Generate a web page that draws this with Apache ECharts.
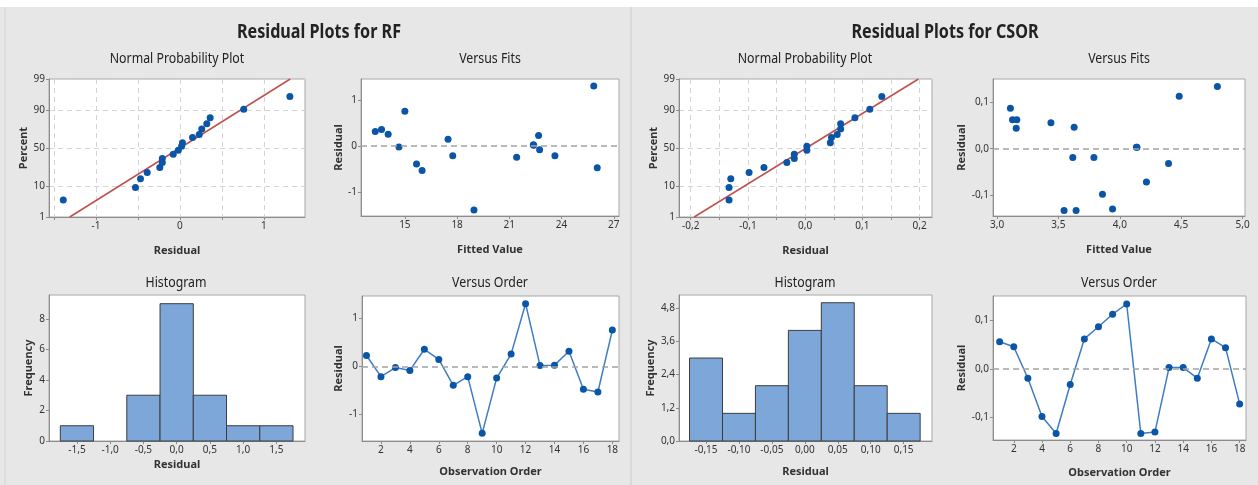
<!DOCTYPE html>
<html>
<head>
  <meta charset="utf-8">
</head>
<body style="margin: 0; background: #e7e7e7">
  <div id="container" style="width: 1258px; height: 485px"></div>
  <script type="text/javascript" src="https://cdn.jsdelivr.net/npm/echarts@6/dist/echarts.min.js"></script>
  <script type="text/javascript">
    // observation order
    const obsOrder = [1, 2, 3, 4, 5, 6, 7, 8, 9, 10, 11, 12, 13, 14, 15, 16, 17, 18];
    // RF model
    const residRF = [0.23, -0.21, -0.02, -0.08, 0.36, 0.15, -0.39, -0.21, -1.39, -0.24, 0.26, 1.31, 0.02, 0.03, 0.32, -0.47, -0.53, 0.76];
    const fitsRF = [22.68, 17.75, 14.66, 22.74, 13.66, 17.48, 15.67, 23.62, 18.97, 21.42, 14.04, 25.85, 22.40, 22.38, 13.30, 26.05, 15.99, 15.00];
    const histRFCenters = [-1.5, -1.0, -0.5, 0.0, 0.5, 1.0, 1.5];
    const histRFCounts = [1, 0, 3, 9, 3, 1, 1];
    const histRFWidth = 0.5;
    const fitLineRF = [[-1.313, 1], [1.314, 99]];
    // CSOR model
    const residCSOR = [0.056, 0.046, -0.019, -0.098, -0.133, -0.032, 0.062, 0.087, 0.113, 0.134, -0.133, -0.130, 0.003, 0.003, -0.019, 0.062, 0.044, -0.072];
    const fitsCSOR = [3.439, 3.628, 3.617, 3.859, 3.546, 4.397, 3.126, 3.109, 4.484, 4.795, 3.644, 3.941, 4.135, 4.140, 3.789, 3.161, 3.156, 4.217];
    const histCSORCenters = [-0.15, -0.10, -0.05, 0.00, 0.05, 0.10, 0.15];
    const histCSORCounts = [3, 1, 2, 4, 5, 2, 1];
    const histCSORWidth = 0.05;
    const fitLineCSOR = [[-0.194, 1], [0.198, 99]];
    // normal plot percents (same n for both)
    const probPercent = [4.0, 9.2, 14.9, 20.4, 25.5, 31.2, 36.3, 41.7, 46.9, 52.3, 57.1, 63.7, 67.7, 73.9, 79.4, 84.6, 90.5, 95.9];

    // tick labels
    const pctTicks = [1, 10, 50, 90, 99];
    const nppRFLabels = [-1, 0, 1];
    const nppRFGrid = [-1.5, -1, -0.5, 0, 0.5, 1];
    const nppCSORLabels = [-0.2, -0.1, 0, 0.1, 0.2];
    const nppCSORGrid = [-0.2, -0.15, -0.1, -0.05, 0, 0.05, 0.1, 0.15, 0.2];
    const fitsRFTicks = [15, 18, 21, 24, 27];
    const residRFTicks = [-1, 0, 1];
    const fitsCSORTicks = [3.0, 3.5, 4.0, 4.5, 5.0];
    const residCSORTicks = [-0.1, 0, 0.1];
    const histRFYTicks = [0, 2, 4, 6, 8];
    const histCSORYTicks = [0, 1.2, 2.4, 3.6, 4.8];
    const orderTicks = [2, 4, 6, 8, 10, 12, 14, 16, 18];

    const FONT = 'Noto Sans';

    // inverse normal cdf (Acklam) for the probability scale
    function probit(p) {
      var a = [-3.969683028665376e+01, 2.209460984245205e+02, -2.759285104469687e+02, 1.383577518672690e+02, -3.066479806614716e+01, 2.506628277459239e+00];
      var b = [-5.447609879822406e+01, 1.615858368580409e+02, -1.556989798598866e+02, 6.680131188771972e+01, -1.328068155288572e+01];
      var c = [-7.784894002430293e-03, -3.223964580411365e-01, -2.400758277161838e+00, -2.549732539343734e+00, 4.374664141464968e+00, 2.938163982698783e+00];
      var d = [7.784695709041462e-03, 3.224671290700398e-01, 2.445134137142996e+00, 3.754408661907416e+00];
      var pl = 0.02425, q, r;
      if (p < pl) {
        q = Math.sqrt(-2 * Math.log(p));
        return (((((c[0] * q + c[1]) * q + c[2]) * q + c[3]) * q + c[4]) * q + c[5]) / ((((d[0] * q + d[1]) * q + d[2]) * q + d[3]) * q + 1);
      }
      if (p > 1 - pl) {
        q = Math.sqrt(-2 * Math.log(1 - p));
        return -(((((c[0] * q + c[1]) * q + c[2]) * q + c[3]) * q + c[4]) * q + c[5]) / ((((d[0] * q + d[1]) * q + d[2]) * q + d[3]) * q + 1);
      }
      q = p - 0.5; r = q * q;
      return (((((a[0] * r + a[1]) * r + a[2]) * r + a[3]) * r + a[4]) * r + a[5]) * q / (((((b[0] * r + b[1]) * r + b[2]) * r + b[3]) * r + b[4]) * r + 1);
    }
    const zTicks = pctTicks.map(p => probit(p / 100));

    function fmt(dec) {
      return v => (Math.abs(v) < 1e-9 ? 0 : v).toFixed(dec).replace('.', ',');
    }
    function pctFmt(v) {
      for (var i = 0; i < zTicks.length; i++) {
        if (Math.abs(zTicks[i] - v) < 1e-6) return String(pctTicks[i]);
      }
      return '';
    }

    function axis(gi, o) {
      return {
        type: 'value', gridIndex: gi, min: o.min, max: o.max, scale: true,
        name: o.name, nameLocation: 'middle', nameGap: o.gap,
        nameTextStyle: { fontFamily: FONT, fontSize: 11, fontWeight: 'bold', color: '#333' },
        axisLine: { show: true, onZero: false, lineStyle: { color: '#8c8c8c', width: 1 } },
        axisTick: { show: true, length: 3, customValues: o.ticks || o.labels, lineStyle: { color: '#8c8c8c' } },
        axisLabel: { customValues: o.labels, formatter: o.fmt, fontFamily: FONT, fontSize: 10, color: '#333', margin: 4 },
        splitLine: { show: !!o.grid, lineStyle: { type: [5, 4], color: '#d4d4d4', width: 1 } }
      };
    }

    function histItem(width) {
      return function (params, api) {
        var c = api.value(0), n = api.value(1);
        if (!n) return null;
        var p0 = api.coord([c - width / 2, n]);
        var p1 = api.coord([c + width / 2, 0]);
        return {
          type: 'rect',
          shape: { x: p0[0], y: p0[1], width: p1[0] - p0[0], height: p1[1] - p0[1] },
          style: { fill: '#7da6d9', stroke: '#3d3d3d', lineWidth: 1 }
        };
      };
    }

    const zeroLine = {
      silent: true, symbol: 'none', label: { show: false },
      lineStyle: { type: [6, 4], color: '#a3a3a3', width: 1.5 },
      data: [{ yAxis: 0 }]
    };
    const DOT = '#0a55a6';

    const sortedRF = residRF.slice().sort((a, b) => a - b);
    const sortedCSOR = residCSOR.slice().sort((a, b) => a - b);

    const gridBox = { show: true, backgroundColor: '#fff', borderColor: '#a8a8a8', borderWidth: 1 };
    const grids = [
      { left: 49, top: 79, width: 256, height: 138 },
      { left: 361, top: 79, width: 258, height: 137 },
      { left: 49, top: 295, width: 256, height: 146 },
      { left: 362, top: 296, width: 257, height: 145 },
      { left: 679, top: 79, width: 253, height: 138 },
      { left: 993, top: 79, width: 252, height: 137 },
      { left: 679, top: 295, width: 253, height: 146 },
      { left: 993, top: 296, width: 253, height: 144 }
    ].map(g => Object.assign({}, gridBox, g));

    const zMin = probit(0.01) - 1e-4, zMax = probit(0.99) + 1e-4;

    const xAxes = [
      axis(0, { min: -1.56, max: 1.49, labels: nppRFLabels, ticks: nppRFGrid, grid: true, fmt: fmt(0), name: 'Residual', gap: 28 }),
      axis(1, { min: 12.48, max: 27.3, labels: fitsRFTicks, fmt: fmt(0), name: 'Fitted Value', gap: 28 }),
      axis(2, { min: -1.92, max: 1.93, labels: histRFCenters, fmt: fmt(1), name: 'Residual', gap: 18 }),
      axis(3, { min: 0.69, max: 18.46, labels: orderTicks, fmt: fmt(0), name: 'Observation Order', gap: 25 }),
      axis(4, { min: -0.2205, max: 0.2217, labels: nppCSORLabels, ticks: nppCSORGrid, grid: true, fmt: fmt(1), name: 'Residual', gap: 28 }),
      axis(5, { min: 2.967, max: 5.02, labels: fitsCSORTicks, fmt: fmt(1), name: 'Fitted Value', gap: 28 }),
      axis(6, { min: -0.191, max: 0.193, labels: histCSORCenters, fmt: fmt(2), name: 'Residual', gap: 25 }),
      axis(7, { min: 0.53, max: 18.45, labels: orderTicks, fmt: fmt(0), name: 'Observation Order', gap: 27 })
    ];
    const yAxes = [
      axis(0, { min: zMin, max: zMax, labels: zTicks, grid: true, fmt: pctFmt, name: 'Percent', gap: 20 }),
      axis(1, { min: -1.52, max: 1.46, labels: residRFTicks, fmt: fmt(0), name: 'Residual', gap: 17 }),
      axis(2, { min: 0, max: 9.57, labels: histRFYTicks, fmt: fmt(0), name: 'Frequency', gap: 15 }),
      axis(3, { min: -1.55, max: 1.47, labels: residRFTicks, fmt: fmt(0), name: 'Residual', gap: 18 }),
      axis(4, { min: zMin, max: zMax, labels: zTicks, grid: true, fmt: pctFmt, name: 'Percent', gap: 20 }),
      axis(5, { min: -0.145, max: 0.150, labels: residCSORTicks, fmt: fmt(1), name: 'Residual', gap: 24 }),
      axis(6, { min: 0, max: 5.28, labels: histCSORYTicks, fmt: fmt(1), name: 'Frequency', gap: 23 }),
      axis(7, { min: -0.1464, max: 0.1505, labels: residCSORTicks, fmt: fmt(1), name: 'Residual', gap: 22 })
    ];

    function modelSeries(k, sorted, fitLine, resid, fits, centers, counts, width) {
      var g = k * 4;
      return [
        {
          type: 'line', xAxisIndex: g, yAxisIndex: g, symbol: 'none', z: 2,
          lineStyle: { color: '#c0504d', width: 1.5 },
          data: fitLine.map(d => [d[0], probit(d[1] / 100)])
        },
        {
          type: 'scatter', xAxisIndex: g, yAxisIndex: g, symbolSize: 7, z: 3,
          itemStyle: { color: DOT, opacity: 1 },
          data: sorted.map((r, i) => [r, probit(probPercent[i] / 100)])
        },
        {
          type: 'scatter', xAxisIndex: g + 1, yAxisIndex: g + 1, symbolSize: 7,
          itemStyle: { color: DOT, opacity: 1 },
          markLine: zeroLine,
          data: fits.map((f, i) => [f, resid[i]])
        },
        {
          type: 'custom', xAxisIndex: g + 2, yAxisIndex: g + 2,
          renderItem: histItem(width), encode: { x: 0, y: 1 },
          data: centers.map((c, i) => [c, counts[i]])
        },
        {
          type: 'line', xAxisIndex: g + 3, yAxisIndex: g + 3, symbol: 'circle', symbolSize: 7,
          lineStyle: { color: '#3d7cc6', width: 1.5 },
          itemStyle: { color: DOT },
          markLine: zeroLine,
          data: obsOrder.map((o, i) => [o, resid[i]])
        }
      ];
    }

    function label(text, x, y, size, weight, sx) {
      return {
        type: 'text', x: x, y: y, scaleX: sx,
        style: { text: text, fontFamily: FONT, fontSize: size, fontWeight: weight, fill: '#222', textAlign: 'center', textVerticalAlign: 'middle' }
      };
    }

    var dom = document.getElementById('container');
    var myChart = echarts.init(dom, null, { renderer: 'canvas' });

    var option = {
      backgroundColor: '#e7e7e7',
      animation: false,
      grid: grids,
      xAxis: xAxes,
      yAxis: yAxes,
      series: [].concat(
        modelSeries(0, sortedRF, fitLineRF, residRF, fitsRF, histRFCenters, histRFCounts, histRFWidth),
        modelSeries(1, sortedCSOR, fitLineCSOR, residCSOR, fitsCSOR, histCSORCenters, histCSORCounts, histCSORWidth)
      ),
      graphic: [
        { type: 'rect', shape: { x: 0, y: 0, width: 1258, height: 7 }, style: { fill: '#fff' } },
        { type: 'line', shape: { x1: 631, y1: 7, x2: 631, y2: 485 }, style: { stroke: '#cdcdcd', lineWidth: 1 } },
        { type: 'line', shape: { x1: 5, y1: 7, x2: 5, y2: 485 }, style: { stroke: '#d6d6d6', lineWidth: 1 } },
        label('Residual Plots for RF', 319, 33, 19, 'bold', 0.85),
        label('Residual Plots for CSOR', 945, 33, 19, 'bold', 0.85),
        label('Normal Probability Plot', 177, 59, 14, 'normal', 0.88),
        label('Versus Fits', 490, 59, 14, 'normal', 0.88),
        label('Histogram', 176, 283, 14, 'normal', 0.88),
        label('Versus Order', 490, 283, 14, 'normal', 0.88),
        label('Normal Probability Plot', 805, 59, 14, 'normal', 0.88),
        label('Versus Fits', 1119, 59, 14, 'normal', 0.88),
        label('Histogram', 805, 283, 14, 'normal', 0.88),
        label('Versus Order', 1119, 283, 14, 'normal', 0.88)
      ]
    };

    myChart.setOption(option);
    window.addEventListener('resize', myChart.resize);
  </script>
</body>
</html>
